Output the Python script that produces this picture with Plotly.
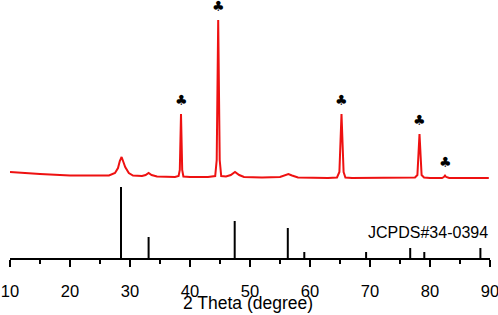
import plotly.graph_objects as go

# Measured XRD pattern (2-theta, intensity a.u.)
two_theta = [10, 12, 15, 20, 25, 26.5, 27.5, 28.0, 28.3, 28.6, 28.9, 29.2, 29.8, 30.5, 32, 32.6, 33.1, 33.6, 34.5,
             37.5, 38.1, 38.3, 38.5, 38.7, 38.9, 40, 43, 44.2, 44.45, 44.7, 44.95, 45.2, 46, 46.8, 47.5, 48.2, 49,
             52, 55, 55.8, 56.4, 57, 58, 63, 64.5, 64.9, 65.25, 65.6, 65.9, 67, 75, 77.5, 77.9, 78.25, 78.6, 79.0,
             80, 82, 82.3, 82.5, 82.7, 83.2, 89.8]
intensity = [86, 85, 84, 82.5, 82, 82.5, 85, 90, 97, 101, 96, 91, 85, 82.5, 82, 83, 85, 83, 81.5,
             81, 82, 88, 144, 88, 81.5, 81, 81, 82, 98, 238, 98, 82, 81.5, 83, 86, 83, 81,
             80.5, 81, 82.5, 84, 82.5, 80.5, 80, 80.5, 86, 144, 86, 80.5, 80, 80, 80.5, 83, 124, 83, 80.5,
             80, 80, 81, 82.5, 81, 80, 80]

# Reference card JCPDS#34-0394 (2-theta, relative intensity)
ref_pos = [28.5, 33.1, 47.45, 56.3, 59.05, 69.35, 76.7, 79.05, 88.4]
ref_int = [71, 21, 37, 30, 6, 6, 10, 6, 10]

# Marked peaks (club symbol)
club_pos = [38.5, 44.7, 65.25, 78.25, 82.5]
club_int = [144, 238, 144, 124, 82.5]

ref_label = "JCPDS#34-0394"
x_title = "2 Theta (degree)"
x_ticks = [10, 20, 30, 40, 50, 60, 70, 80, 90]

stick_x, stick_y = [], []
for p, h in zip(ref_pos, ref_int):
    stick_x += [p, p, None]
    stick_y += [0, h, None]

fig = go.Figure()
fig.add_trace(go.Scatter(x=two_theta, y=intensity, mode="lines",
                         line=dict(color="#ee1111", width=2), hoverinfo="skip"))
fig.add_trace(go.Scatter(x=stick_x, y=stick_y, mode="lines",
                         line=dict(color="black", width=2), hoverinfo="skip"))

for p, h in zip(club_pos, club_int):
    fig.add_annotation(x=p, y=h + 14, text="♣", showarrow=False,
                       font=dict(family="DejaVu Sans", size=14, color="black"),
                       xanchor="center", yanchor="middle")

fig.add_annotation(x=90, y=258 - 232, text=ref_label, showarrow=False, xanchor="right",
                   yanchor="middle", font=dict(family="Liberation Sans, Arial", size=16, color="black"))

# axis title placed below the tick labels
fig.add_annotation(xref="paper", yref="paper", x=0.496, y=-45 / 258, text=x_title, showarrow=False,
                   xanchor="center", yanchor="middle",
                   font=dict(family="Liberation Sans, Arial", size=17.5, color="black"))

fig.update_layout(
    width=498, height=315,
    margin=dict(l=10, r=8, t=0, b=57, autoexpand=False),
    paper_bgcolor="white", plot_bgcolor="white",
    showlegend=False,
    font=dict(family="Liberation Sans, Arial", color="black"),
    xaxis=dict(range=[10, 90], tickvals=x_ticks, ticks="outside", ticklen=7, tickwidth=2,
               tickcolor="black", showline=True, linecolor="black", linewidth=2,
               showgrid=False, zeroline=False, tickfont=dict(size=16.5), automargin=False,
               ticklabeloverflow="allow", ticklabelstandoff=10,
               minor=dict(dtick=5, tick0=5, ticks="outside", ticklen=4, tickwidth=2, tickcolor="black")),
    yaxis=dict(range=[0, 258], visible=False, showgrid=False, zeroline=False, automargin=False),
)

fig.write_html("out.html", config={"displayModeBar": False},
               post_script="document.body.style.margin='0px';document.body.style.overflow='hidden';")
